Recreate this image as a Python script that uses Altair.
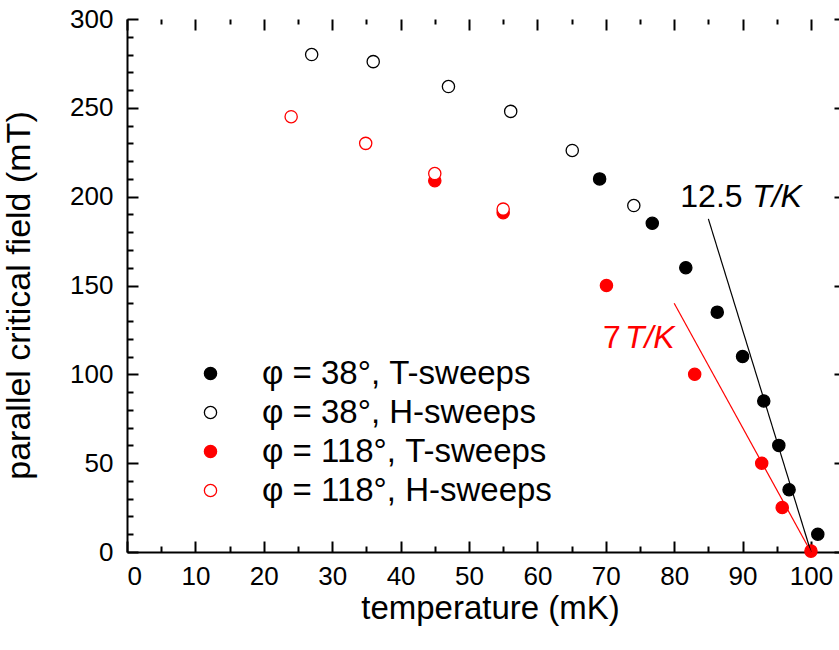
import altair as alt
import pandas as pd

# ---------------- data ----------------
series_names = ["φ = 38°, T-sweeps", "φ = 38°, H-sweeps", "φ = 118°, T-sweeps", "φ = 118°, H-sweeps"]

blackT_temp = [69.1, 76.8, 81.7, 86.3, 90.0, 93.1, 95.3, 96.8, 101.0]
blackT_field = [210, 185, 160, 135, 110, 85, 60, 35, 10]

blackH_temp = [27.0, 36.0, 47.0, 56.1, 65.1, 74.1]
blackH_field = [280, 276, 262, 248, 226, 195]

redT_temp = [45.0, 55.0, 70.1, 83.0, 92.8, 95.8, 100.0]
redT_field = [209, 191, 150, 100, 50, 25, 0.5]

redH_temp = [24.0, 34.9, 45.0, 55.0]
redH_field = [245, 230, 213, 193]

# slope lines (12.5 T/K and 7 T/K ending at Tc = 100 mK)
line_black_temp = [85.0, 100.0]
line_black_field = [187.5, 0.0]
line_red_temp = [80.0, 100.0]
line_red_field = [140.0, 0.0]

# annotations
ann_num_text = ["12.5", "7"]
ann_num_temp = [80.9, 69.6]
ann_num_field = [194, 115]
ann_num_color = ["black", "red"]
ann_it_text = ["T/K", "T/K"]
ann_it_temp = [91.4, 72.8]
ann_it_field = [194, 115]
ann_it_color = ["black", "red"]

# ticks
x_major = [0, 10, 20, 30, 40, 50, 60, 70, 80, 90, 100]
x_minor = [5, 15, 25, 35, 45, 55, 65, 75, 85, 95]
y_major = [0, 50, 100, 150, 200, 250, 300]
y_minor = [10, 20, 30, 40, 60, 70, 80, 90, 110, 120, 130, 140, 160, 170, 180, 190,
           210, 220, 230, 240, 260, 270, 280, 290]

# ---------------- tables ----------------
rows = []
for t, h in zip(blackT_temp, blackT_field):
    rows.append({"T": t, "H": h, "series": series_names[0]})
for t, h in zip(blackH_temp, blackH_field):
    rows.append({"T": t, "H": h, "series": series_names[1]})
for t, h in zip(redT_temp, redT_field):
    rows.append({"T": t, "H": h, "series": series_names[2]})
for t, h in zip(redH_temp, redH_field):
    rows.append({"T": t, "H": h, "series": series_names[3]})
df = pd.DataFrame(rows)

df_lb = pd.DataFrame({"T": line_black_temp, "H": line_black_field})
df_lr = pd.DataFrame({"T": line_red_temp, "H": line_red_field})
df_num = pd.DataFrame({"T": ann_num_temp, "H": ann_num_field, "txt": ann_num_text, "c": ann_num_color})
df_it = pd.DataFrame({"T": ann_it_temp, "H": ann_it_field, "txt": ann_it_text, "c": ann_it_color})

W, H = 712, 533
FONT = "Liberation Sans"

xs = alt.Scale(domain=[0, 104.1], nice=False, zero=False)
ys = alt.Scale(domain=[0, 300], nice=False, zero=False)


def tick_axis(orient, offset, values, size):
    return alt.Axis(orient=orient, offset=offset, values=values, labels=False, domain=False,
                    ticks=True, tickSize=size, tickWidth=2, tickColor="black", grid=False, title="")


legend = alt.Legend(orient="none", legendX=67, legendY=338, title=None, padding=0,
                    symbolType="circle", symbolSize=150, symbolStrokeWidth=1.3,
                    labelFont=FONT, labelFontSize=33, labelColor="black",
                    labelOffset=35, rowPadding=5, labelLimit=600)

points = alt.Chart(df).mark_point(shape="circle", filled=True, size=150, strokeWidth=1.3, opacity=1).encode(
    x=alt.X("T:Q", scale=xs, axis=alt.Axis(orient="bottom", values=x_major, ticks=False, domain=True,
                                           domainColor="black", domainWidth=2, grid=False,
                                           title="temperature (mK)", labelFontSize=26, labelPadding=11,
                                           titleFontSize=33, titlePadding=3, titleX=363,
                                           labelFont=FONT, titleFont=FONT,
                                           titleFontWeight="normal", labelColor="black", titleColor="black")),
    y=alt.Y("H:Q", scale=ys, axis=alt.Axis(orient="left", values=y_major, ticks=False, domain=True,
                                           domainColor="black", domainWidth=2, grid=False,
                                           title="parallel critical field (mT)", labelFontSize=26,
                                           labelPadding=14, titleFontSize=34, titlePadding=33, titleY=276,
                                           labelFont=FONT, titleFont=FONT, titleFontWeight="normal",
                                           labelColor="black", titleColor="black")),
    fill=alt.Fill("series:N", sort=series_names,
                  scale=alt.Scale(domain=series_names, range=["black", "white", "red", "white"]),
                  legend=legend),
    stroke=alt.Stroke("series:N", sort=series_names,
                      scale=alt.Scale(domain=series_names, range=["black", "black", "red", "red"]),
                      legend=legend),
)

line_b = alt.Chart(df_lb).mark_line(color="black", strokeWidth=1.2).encode(
    x=alt.X("T:Q", scale=xs, axis=tick_axis("top", -H, x_major, 11)),
    y=alt.Y("H:Q", scale=ys, axis=tick_axis("right", -W, y_major, 11)),
)

line_r = alt.Chart(df_lr).mark_line(color="red", strokeWidth=1.2).encode(
    x=alt.X("T:Q", scale=xs, axis=tick_axis("top", -H, x_minor, 6)),
    y=alt.Y("H:Q", scale=ys, axis=tick_axis("right", -W, y_minor, 6)),
)

txt_num = alt.Chart(df_num).mark_text(font=FONT, fontSize=32, align="left", baseline="alphabetic").encode(
    x=alt.X("T:Q", scale=xs, axis=tick_axis("bottom", -H, x_major, 11)),
    y=alt.Y("H:Q", scale=ys, axis=tick_axis("left", -(W + 6), y_major, 11)),
    text="txt:N",
    color=alt.Color("c:N", scale=None),
)

txt_it = alt.Chart(df_it).mark_text(font=FONT, fontSize=32, fontStyle="italic", align="left",
                                    baseline="alphabetic").encode(
    x=alt.X("T:Q", scale=xs, axis=tick_axis("bottom", -H, x_minor, 5)),
    y=alt.Y("H:Q", scale=ys, axis=tick_axis("left", -(W + 6), y_minor, 6)),
    text="txt:N",
    color=alt.Color("c:N", scale=None),
)

chart = alt.layer(points, line_b, line_r, txt_num, txt_it).resolve_axis(
    x="independent", y="independent"
).properties(
    width=W, height=H,
    autosize=alt.AutoSizeParams(type="none"),
    padding={"left": 127, "top": 19, "right": 0, "bottom": 98},
).configure_view(stroke=None).configure_axis(
    domainColor="black", domainWidth=2
)

chart.save("out.html", embed_options={"renderer": "svg", "actions": False})
